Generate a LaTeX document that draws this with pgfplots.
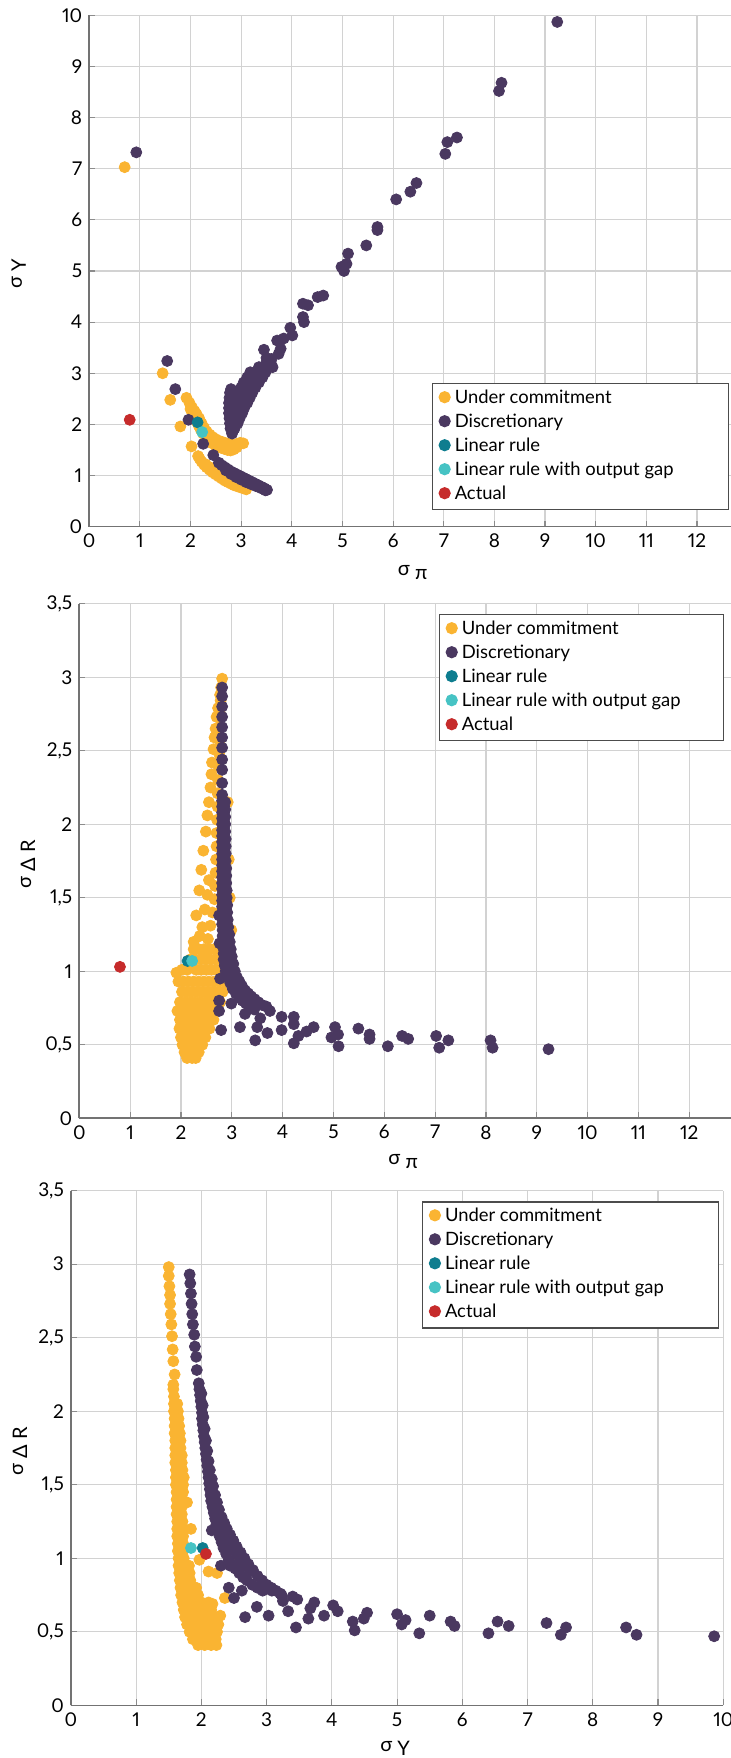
\documentclass[border=0pt]{standalone}
\usepackage{fontspec}
\setmainfont{Lato}[Numbers=Proportional]
\usepackage{pgfplots}
\pgfplotsset{compat=1.18}

\definecolor{uc}{HTML}{FAB432}
\definecolor{dis}{HTML}{4A3860}
\definecolor{lin}{HTML}{0E7D8F}
\definecolor{gap}{HTML}{46C3C4}
\definecolor{act}{HTML}{C62B2B}
\definecolor{gridc}{HTML}{D2D2D2}

\newcommand{\legbox}[2]{\makebox[#1][l]{#2}}
\newcommand{\sig}{\raisebox{2pt}{σ}}

\pgfplotsset{
  dots/.style={only marks, mark=*, mark size=2.75pt, color=#1,
    mark options={draw=none, fill=#1},
    legend image code/.code={\fill[#1] (0pt,0.8pt) circle (2.75pt);}},
  sigplot/.style={
    scale only axis, anchor=south west,
    axis x line*=bottom, axis y line*=left,
    axis line style={black!55, line width=0.8pt},
    grid=major, grid style={gridc, line width=0.6pt},
    major tick length=3pt, tick style={black!45, line width=0.6pt},
    tick label style={font=\fontsize{9.5}{11}\selectfont},
    /pgf/number format/assume math mode=true,
    /pgf/number format/use comma,
    label style={font=\fontsize{10}{12}\selectfont},
    xmin=0, ymin=0,
    legend style={draw=black!70, line width=0.6pt, fill=white,
      inner sep=3pt, outer sep=0pt, font=\fontsize{9.2}{11}\selectfont,
      row sep=3pt, column sep=2pt, cells={anchor=west},
      nodes={inner sep=0pt, text height=7pt, text depth=2pt},
      anchor=north west},
  },
}

\begin{document}
\begin{tikzpicture}
\useasboundingbox (0,0) rectangle (365.5pt,879pt);

% sigma pi vs sigma Y
\begin{axis}[sigplot, at={(44.6pt,615.65pt)}, width=320.9pt, height=255.7pt,
  xmax=12.67, ymax=10, xtick={0,1,...,12}, ytick={0,1,...,10},
  xlabel={\sig\ π}, ylabel={\sig\ Y},
  xlabel style={at={(axis description cs:0.504,-0.0905)}, anchor=center},
  ylabel style={at={(axis description cs:-0.110,0.494)}, anchor=center},
  legend style={at={(0.535,0.2794)}}]
\addplot[dots=uc] coordinates {
(0.70,7.03) (1.45,3.00) (1.60,2.48) (1.80,1.96) (2.02,1.57) (2.15,1.38)
(1.92,2.52) (1.98,2.42) (2.03,2.33) (2.08,2.26) (2.12,2.20) (2.17,2.12) (2.22,2.02) (2.27,1.93) (2.32,1.86) (2.38,1.80) (2.44,1.75) (2.50,1.71) (2.56,1.68) (2.62,1.66) (2.68,1.64) (2.74,1.62) (2.80,1.61) (2.86,1.60) (2.92,1.62) (2.98,1.64) (3.04,1.63)
(2.00,2.30) (2.04,2.22) (2.08,2.14) (2.12,2.06) (2.16,1.98) (2.20,1.90) (2.25,1.82) (2.31,1.74) (2.37,1.68) (2.43,1.63) (2.49,1.59) (2.55,1.56) (2.61,1.54) (2.67,1.52) (2.73,1.50) (2.79,1.49) (2.85,1.51) (2.91,1.55)
(2.18,1.33) (2.22,1.27) (2.27,1.21) (2.32,1.16) (2.38,1.11) (2.44,1.06) (2.50,1.02) (2.56,0.98) (2.62,0.94) (2.68,0.90) (2.74,0.87) (2.80,0.84) (2.86,0.81) (2.92,0.79) (2.98,0.77) (3.04,0.75) (3.10,0.73)
(2.30,1.22) (2.36,1.17) (2.42,1.12) (2.48,1.08) (2.54,1.04) (2.60,1.00) (2.66,0.97) (2.72,0.93) (2.78,0.90) (2.84,0.87) (2.90,0.84) (2.96,0.82) (3.02,0.80)
};
\addlegendentry{\legbox{133.8pt}{Under commitment}}
\addplot[dots=dis] coordinates {
(0.93,7.32) (1.54,3.24) (1.70,2.69) (1.96,2.09) (2.25,1.62) (2.45,1.40)
(2.56,1.25) (2.62,1.20) (2.68,1.16) (2.74,1.12) (2.80,1.08) (2.86,1.05) (2.92,1.02) (2.98,0.99) (3.04,0.96) (3.10,0.93) (3.16,0.90) (3.22,0.87) (3.28,0.84) (3.34,0.81) (3.40,0.78) (3.46,0.75) (3.51,0.72)
(2.70,1.10) (2.80,1.03) (2.90,0.97) (3.00,0.92) (3.10,0.87) (3.20,0.83) (3.30,0.79) (3.40,0.75) (3.48,0.71)
(2.82,1.82) (2.79,1.92) (2.87,1.92) (2.78,2.02) (2.86,2.02) (2.93,2.02)
(2.77,2.12) (2.87,2.12) (2.97,2.12) (2.76,2.22) (2.86,2.22) (2.96,2.22) (3.02,2.22)
(2.76,2.32) (2.86,2.32) (2.96,2.32) (3.06,2.32)
(2.76,2.42) (2.86,2.42) (2.96,2.42) (3.06,2.42) (3.12,2.42)
(2.77,2.52) (2.87,2.52) (2.97,2.52) (3.07,2.52) (3.17,2.52)
(2.78,2.62) (2.90,2.62) (3.00,2.62) (3.10,2.62) (3.22,2.62) (2.80,2.69)
(3.00,2.72) (3.10,2.72) (3.20,2.72) (3.28,2.72)
(3.05,2.82) (3.15,2.82) (3.25,2.82) (3.35,2.82)
(3.12,2.92) (3.22,2.92) (3.32,2.92) (3.42,2.92)
(3.18,3.02) (3.28,3.02) (3.38,3.02) (3.48,3.02)
(3.35,3.12) (3.45,3.12) (3.55,3.12) (3.62,3.12) (3.50,3.22) (3.58,3.22)
(3.45,3.46) (3.78,3.48) (3.74,3.38) (3.60,3.28) (3.50,3.30) (3.71,3.64) (3.84,3.68)
(3.97,3.89) (4.01,3.74) (4.22,4.10) (4.24,4.00) (4.22,4.36) (4.32,4.33) (4.51,4.49) (4.62,4.52)
(5.03,5.00) (4.98,5.08) (5.08,5.14) (5.11,5.34) (5.47,5.50) (5.69,5.80) (5.69,5.86)
(6.06,6.40) (6.34,6.55) (6.46,6.72) (7.03,7.29) (7.07,7.52) (7.26,7.61)
(8.09,8.52) (8.14,8.68) (9.24,9.87)
};
\addlegendentry{\legbox{133.8pt}{Discretionary}}
\addplot[dots=lin] coordinates {(2.14,2.04)};
\addlegendentry{\legbox{133.8pt}{Linear rule}}
\addplot[dots=gap] coordinates {(2.23,1.85)};
\addlegendentry{\legbox{133.8pt}{Linear rule with output gap}}
\addplot[dots=act] coordinates {(0.80,2.09)};
\addlegendentry{\legbox{133.8pt}{Actual}}
\end{axis}

% sigma pi vs sigma Delta R
\begin{axis}[sigplot, at={(39.65pt,319.85pt)}, width=325.85pt, height=257.3pt,
  xmax=12.82, ymax=3.5, xtick={0,1,...,12}, ytick={0,0.5,1,1.5,2,2.5,3,3.5},
  xlabel={\sig\ π}, ylabel={\sig\ Δ R},
  xlabel style={at={(axis description cs:0.497,-0.084)}, anchor=center},
  ylabel style={at={(axis description cs:-0.0787,0.494)}, anchor=center},
  legend style={at={(0.5529,0.9784)}}]
\addplot[dots=uc] coordinates {
(2.81,2.99)
(2.77,2.88) (2.73,2.79) (2.70,2.73) (2.68,2.65) (2.66,2.59) (2.64,2.51) (2.61,2.42) (2.60,2.34) (2.58,2.25) (2.55,2.15) (2.52,2.06) (2.49,1.95) (2.44,1.82) (2.40,1.69) (2.36,1.55) (2.30,1.38) (2.25,1.20) (2.18,1.08)
(2.79,2.93) (2.78,2.84) (2.77,2.75) (2.76,2.66) (2.76,2.57) (2.75,2.48) (2.74,2.39) (2.73,2.30) (2.72,2.21) (2.72,2.12) (2.71,2.03) (2.70,1.94) (2.70,1.85) (2.69,1.76) (2.68,1.67) (2.67,1.58) (2.66,1.49) (2.62,1.40) (2.58,1.31) (2.53,1.22) (2.48,1.14)
(2.52,1.52) (2.55,1.62) (2.47,1.42) (2.42,1.30) (2.37,1.24)
(2.92,2.15) (2.94,1.76) (2.96,1.50) (2.99,1.28)
(2.25,1.15) (2.35,1.15) (2.45,1.15) (2.55,1.15) (2.65,1.15) (2.75,1.15)
(2.28,1.08) (2.38,1.08) (2.48,1.08) (2.58,1.08) (2.68,1.08) (2.78,1.08)
(2.02,1.01) (2.12,1.01) (2.30,1.01) (2.40,1.01) (2.50,1.01) (2.60,1.01) (2.70,1.01) (2.80,1.01) (2.88,1.01) (1.91,0.99)
(1.95,0.93) (2.05,0.93) (2.15,0.93) (2.25,0.93) (2.35,0.93) (2.45,0.93) (2.55,0.93) (2.65,0.93) (2.75,0.93) (2.85,0.93)
(2.02,0.86) (2.12,0.86) (2.22,0.86) (2.32,0.86) (2.42,0.86) (2.52,0.86) (2.62,0.86) (2.72,0.86) (2.82,0.86)
(1.98,0.79) (2.08,0.79) (2.18,0.79) (2.28,0.79) (2.38,0.79) (2.48,0.79) (2.58,0.79) (2.68,0.79) (2.77,0.79)
(1.93,0.73) (2.03,0.73) (2.13,0.73) (2.23,0.73) (2.33,0.73) (2.43,0.73) (2.53,0.73) (2.63,0.73) (2.70,0.73)
(1.98,0.67) (2.08,0.67) (2.18,0.67) (2.28,0.67) (2.38,0.67) (2.48,0.67) (2.58,0.67) (2.64,0.67)
(1.97,0.61) (2.07,0.61) (2.17,0.61) (2.27,0.61) (2.37,0.61) (2.47,0.61) (2.56,0.61)
(2.00,0.55) (2.10,0.55) (2.20,0.55) (2.30,0.55) (2.40,0.55) (2.48,0.55)
(2.03,0.50) (2.13,0.50) (2.23,0.50) (2.33,0.50) (2.42,0.50)
(2.07,0.45) (2.17,0.45) (2.27,0.45) (2.35,0.45)
(2.12,0.41) (2.22,0.41) (2.29,0.41)
};
\addlegendentry{\legbox{128pt}{Under commitment}}
\addplot[dots=dis] coordinates {
(2.81,2.93) (2.81,2.87) (2.81,2.80) (2.81,2.73) (2.81,2.66) (2.81,2.59) (2.81,2.52) (2.81,2.44) (2.81,2.37) (2.81,2.28) (2.81,2.20)
(2.81,2.16) (2.81,2.12) (2.81,2.08) (2.81,2.04) (2.81,2.00) (2.81,1.96) (2.81,1.92) (2.81,1.88) (2.81,1.84) (2.81,1.80) (2.81,1.76) (2.81,1.72) (2.81,1.68) (2.81,1.64) (2.81,1.60) (2.81,1.56) (2.81,1.52) (2.81,1.48) (2.81,1.44) (2.81,1.40) (2.81,1.36) (2.81,1.32) (2.82,1.28) (2.82,1.24) (2.83,1.20) (2.83,1.16) (2.84,1.12) (2.84,1.08) (2.86,1.04) (2.88,1.00)
(2.87,2.15) (2.87,2.10) (2.87,2.05) (2.87,2.00) (2.87,1.95) (2.88,1.90) (2.88,1.85) (2.88,1.80) (2.88,1.75) (2.89,1.70) (2.89,1.65) (2.89,1.60) (2.90,1.55) (2.90,1.50) (2.91,1.45) (2.91,1.40) (2.92,1.35) (2.93,1.30) (2.95,1.25) (2.96,1.20) (2.98,1.15) (3.00,1.10) (3.03,1.05) (3.06,1.00)
(3.10,0.96) (3.15,0.93) (3.20,0.90) (3.26,0.87) (3.32,0.85) (3.38,0.83) (3.45,0.81) (3.52,0.79) (3.60,0.77) (3.68,0.76)
(2.92,0.96) (2.97,0.92) (3.02,0.88) (3.08,0.85) (3.14,0.82) (3.21,0.80) (3.28,0.78) (3.36,0.76) (3.44,0.74)
(2.75,1.38) (2.76,1.19) (2.77,0.95) (2.75,0.80) (2.75,0.73) (2.79,0.60)
(2.99,0.78) (3.16,0.62) (3.26,0.71) (3.46,0.53) (3.50,0.62) (3.56,0.68) (3.70,0.58) (3.75,0.73)
(3.98,0.69) (3.98,0.60) (4.22,0.69) (4.22,0.64) (4.22,0.51) (4.31,0.56) (4.47,0.59) (4.61,0.62)
(5.03,0.62) (4.96,0.55) (5.09,0.57) (5.10,0.49) (5.49,0.61) (5.71,0.57) (5.71,0.54) (6.07,0.49)
(6.35,0.56) (6.47,0.54) (7.02,0.56) (7.08,0.48) (7.26,0.53) (8.09,0.53) (8.13,0.48) (9.23,0.47)
};
\addlegendentry{\legbox{128pt}{Discretionary}}
\addplot[dots=lin] coordinates {(2.13,1.07)};
\addlegendentry{\legbox{128pt}{Linear rule}}
\addplot[dots=gap] coordinates {(2.22,1.07)};
\addlegendentry{\legbox{128pt}{Linear rule with output gap}}
\addplot[dots=act] coordinates {(0.80,1.03)};
\addlegendentry{\legbox{128pt}{Actual}}
\end{axis}

% sigma Y vs sigma Delta R
\begin{axis}[sigplot, at={(35.45pt,26.3pt)}, width=326.2pt, height=257.4pt,
  xmax=10, ymax=3.5, xtick={0,1,...,10}, ytick={0,0.5,1,1.5,2,2.5,3,3.5},
  xlabel={\sig\ Y}, ylabel={\sig\ Δ R},
  xlabel style={at={(axis description cs:0.497,-0.083)}, anchor=center},
  ylabel style={at={(axis description cs:-0.078,0.494)}, anchor=center},
  legend style={at={(0.5394,0.978)}}]
\addplot[dots=uc] coordinates {
(1.50,2.98) (1.50,2.92) (1.51,2.85) (1.52,2.79) (1.52,2.73) (1.53,2.66) (1.54,2.59) (1.55,2.51) (1.56,2.42) (1.57,2.34) (1.59,2.25) (1.57,2.18)
(1.57,2.15) (1.58,2.10) (1.58,2.05) (1.63,2.05) (1.58,2.00) (1.64,2.00) (1.59,1.95) (1.65,1.95)
(1.59,1.90) (1.66,1.90) (1.59,1.85) (1.67,1.85) (1.60,1.80) (1.68,1.80) (1.60,1.75) (1.68,1.75)
(1.60,1.70) (1.70,1.70) (1.60,1.65) (1.70,1.65) (1.61,1.60) (1.71,1.60) (1.61,1.55) (1.73,1.55)
(1.61,1.50) (1.72,1.50) (1.62,1.45) (1.72,1.45) (1.62,1.40) (1.70,1.40) (1.78,1.38)
(1.62,1.35) (1.70,1.35) (1.62,1.30) (1.70,1.30) (1.63,1.25) (1.71,1.25)
(1.63,1.20) (1.71,1.20) (1.84,1.20) (1.63,1.15) (1.72,1.15) (1.64,1.10) (1.72,1.10)
(1.64,1.05) (1.72,1.05) (1.65,1.00) (1.73,1.00) (1.97,0.99)
(1.65,0.95) (1.73,0.95) (1.81,0.95)
(1.66,0.90) (1.74,0.90) (1.82,0.90) (2.11,0.91) (2.24,0.90)
(1.67,0.85) (1.75,0.85) (1.83,0.85)
(1.68,0.80) (1.76,0.80) (1.84,0.80) (1.92,0.80)
(1.69,0.75) (1.77,0.75) (1.85,0.75) (1.95,0.75) (2.36,0.73)
(1.71,0.70) (1.78,0.70) (1.85,0.70) (1.92,0.70) (2.00,0.70) (2.11,0.70) (2.17,0.69)
(1.73,0.65) (1.80,0.65) (1.87,0.65) (1.94,0.65) (2.01,0.65) (2.08,0.65) (2.15,0.65)
(1.75,0.60) (1.82,0.60) (1.89,0.60) (1.96,0.60) (2.03,0.60) (2.10,0.60) (2.17,0.60) (2.29,0.61)
(1.78,0.55) (1.85,0.55) (1.92,0.55) (1.99,0.55) (2.06,0.55) (2.13,0.55) (2.20,0.55) (2.26,0.55)
(1.82,0.50) (1.89,0.50) (1.96,0.50) (2.03,0.50) (2.10,0.50) (2.17,0.50) (2.24,0.50)
(1.87,0.45) (1.94,0.45) (2.01,0.45) (2.08,0.45) (2.15,0.45) (2.22,0.45)
(1.95,0.41) (2.05,0.41) (2.15,0.41) (2.23,0.41)
(2.54,0.99)
};
\addlegendentry{\legbox{133.6pt}{Under commitment}}
\addplot[dots=dis] coordinates {
(1.82,2.93) (1.83,2.87) (1.84,2.80) (1.85,2.73) (1.86,2.66) (1.87,2.59) (1.89,2.52) (1.90,2.44) (1.92,2.37) (1.93,2.28)
(1.96,2.19) (1.97,2.15) (1.98,2.11) (1.99,2.07) (2.00,2.03) (2.01,1.99) (2.01,1.95) (2.02,1.91) (2.03,1.87) (2.04,1.83) (2.05,1.79) (2.06,1.75) (2.07,1.71) (2.08,1.67) (2.09,1.63) (2.10,1.59) (2.11,1.55) (2.12,1.51) (2.13,1.47) (2.14,1.43) (2.15,1.39) (2.17,1.35) (2.19,1.31) (2.21,1.27) (2.23,1.23) (2.25,1.19) (2.28,1.15) (2.31,1.11) (2.34,1.07) (2.38,1.03) (2.42,0.99) (2.47,0.96) (2.52,0.93) (2.58,0.90) (2.64,0.87) (2.70,0.85) (2.78,0.82) (2.86,0.80) (2.94,0.78)
(2.00,2.12) (2.02,2.04) (2.03,1.96) (2.05,1.88) (2.07,1.80) (2.09,1.73) (2.11,1.66) (2.13,1.60) (2.16,1.54) (2.18,1.49) (2.21,1.43) (2.24,1.38) (2.27,1.33) (2.31,1.28) (2.35,1.24) (2.39,1.20) (2.44,1.16) (2.49,1.12) (2.54,1.08) (2.60,1.04) (2.66,1.00) (2.72,0.96) (2.79,0.92) (2.86,0.88) (2.93,0.85) (3.00,0.82) (3.07,0.80) (3.14,0.78) (3.21,0.76)
(2.17,1.45) (2.20,1.38) (2.24,1.31) (2.28,1.26) (2.32,1.21) (2.37,1.16) (2.42,1.11) (2.48,1.07) (2.54,1.03) (2.60,0.99) (2.67,0.95) (2.74,0.91)
(2.16,1.19) (2.30,0.95) (2.44,0.95) (2.42,0.80) (2.50,0.73) (2.62,0.78) (2.67,0.60) (2.85,0.67) (3.03,0.61) (3.08,0.78)
(3.23,0.75) (3.25,0.71) (3.33,0.64) (3.45,0.53) (3.40,0.74) (3.47,0.72) (3.67,0.66) (3.73,0.70) (3.64,0.59) (3.88,0.61)
(4.02,0.68) (4.09,0.64) (4.32,0.57) (4.35,0.51) (4.49,0.59) (4.54,0.63) (5.00,0.62) (5.07,0.55) (5.13,0.58) (5.34,0.49)
(5.50,0.61) (5.82,0.57) (5.88,0.54) (6.40,0.49) (6.54,0.57) (6.71,0.54) (7.29,0.56) (7.51,0.48) (7.59,0.53)
(8.51,0.53) (8.67,0.48) (9.86,0.47)
};
\addlegendentry{\legbox{133.6pt}{Discretionary}}
\addplot[dots=lin] coordinates {(2.02,1.07)};
\addlegendentry{\legbox{133.6pt}{Linear rule}}
\addplot[dots=gap] coordinates {(1.84,1.07)};
\addlegendentry{\legbox{133.6pt}{Linear rule with output gap}}
\addplot[dots=act] coordinates {(2.07,1.03)};
\addlegendentry{\legbox{133.6pt}{Actual}}
\end{axis}
\end{tikzpicture}
\end{document}
